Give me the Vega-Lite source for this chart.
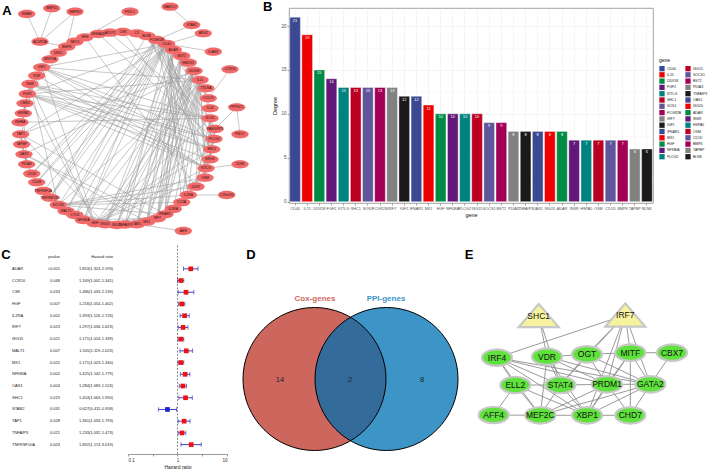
{
"$schema":"https://vega.github.io/schema/vega-lite/v6.json",
"background":"white",
"padding":0,
"spacing":0,
"config":{"view":{"stroke":null},"font":"Liberation Sans","concat":{"spacing":0}},
"resolve":{"scale":{"color":"independent"},"legend":{"color":"independent"}},
"datasets":{
"degree":[{"gene":"CD40","degree":21},{"gene":"IL15","degree":19},{"gene":"DDX58","degree":15},{"gene":"FGF2","degree":14},{"gene":"KITLG","degree":13},{"gene":"SHC1","degree":13},{"gene":"SOS1","degree":13},{"gene":"FCGR2B","degree":13},{"gene":"IRF7","degree":13},{"gene":"IGF1","degree":12},{"gene":"IFNAR1","degree":12},{"gene":"MX1","degree":11},{"gene":"HGF","degree":10},{"gene":"NFKBIA","degree":10},{"gene":"PLCG2","degree":10},{"gene":"ISG15","degree":10},{"gene":"SOCS1","degree":9},{"gene":"BST2","degree":9},{"gene":"PDIA3","degree":8},{"gene":"TNFAIP3","degree":8},{"gene":"OAS1","degree":8},{"gene":"ISG20","degree":8},{"gene":"ADAR","degree":8},{"gene":"INSR","degree":7},{"gene":"HSPA5","degree":7},{"gene":"OSM","degree":7},{"gene":"CD1D","degree":7},{"gene":"BMP6","degree":7},{"gene":"TAPBP","degree":6},{"gene":"BLNK","degree":6}],
"anodes":[{"id":"INHBE","x":26.7,"y":14},{"id":"BMP10","x":51.7,"y":8.3},{"id":"BMPR2","x":75,"y":11.7},{"id":"ACVR2A","x":40,"y":41.7},{"id":"FSTL1","x":130,"y":11.7},{"id":"MARCO","x":170,"y":6.7},{"id":"STAB2","x":191.7,"y":25},{"id":"ARG2","x":203.3,"y":33.3},{"id":"ICAM2","x":213.3,"y":51.7},{"id":"CCR10","x":230,"y":69.3},{"id":"PPP3CC","x":236.7,"y":107.3},{"id":"PNOC","x":240,"y":134.3},{"id":"CDH5","x":240,"y":164.3},{"id":"C19orf10","x":226.7,"y":195},{"id":"AEN","x":183.3,"y":231},{"id":"HSPA5","x":23.3,"y":113.3},{"id":"CMN1","x":25,"y":103.3},{"id":"FGF2","x":27.3,"y":94},{"id":"INSR","x":30,"y":84},{"id":"VDR","x":36.7,"y":75.7},{"id":"IGF1","x":41.7,"y":67.3},{"id":"WNT5A","x":50,"y":59.3},{"id":"DKK1","x":58.3,"y":52.7},{"id":"BMP6","x":66.7,"y":46.7},{"id":"NEO1","x":75,"y":41.7},{"id":"HFE","x":85,"y":37.3},{"id":"SEMA4D","x":98.3,"y":34},{"id":"APLP2","x":110,"y":32.7},{"id":"CSK","x":123,"y":32},{"id":"C3","x":136.7,"y":33.3},{"id":"BLNK","x":146.7,"y":36},{"id":"FCGR2B","x":156.7,"y":40},{"id":"CD40","x":166.7,"y":44},{"id":"ADAR","x":173.3,"y":50},{"id":"BST2","x":181.7,"y":56},{"id":"HMOX1","x":188.3,"y":62.7},{"id":"DDX58","x":194,"y":71},{"id":"IL15","x":200,"y":80},{"id":"TXLNA","x":206,"y":88.3},{"id":"CCL19","x":208.3,"y":98.3},{"id":"IL18","x":210,"y":108.3},{"id":"SOS1","x":210,"y":118.3},{"id":"RASGRP3","x":215,"y":129},{"id":"PLCG2","x":214,"y":139},{"id":"SHC1","x":211.7,"y":149.3},{"id":"NRG3","x":210,"y":159.3},{"id":"KITLG","x":206,"y":168.3},{"id":"OSM","x":205,"y":177.7},{"id":"IL6ST","x":196,"y":186.7},{"id":"IL2RA","x":188.3,"y":195},{"id":"IL12A","x":181.7,"y":202.3},{"id":"IL5RA","x":173.3,"y":209},{"id":"IFNAR1","x":165,"y":214.3},{"id":"IRF7","x":157.3,"y":218.3},{"id":"MX1","x":146.7,"y":221.7},{"id":"OAS1","x":136.7,"y":224.3},{"id":"TNFAIP3","x":125,"y":224.5},{"id":"ISG20","x":116.7,"y":225},{"id":"ISG15","x":105,"y":224.3},{"id":"HGF","x":95,"y":223.3},{"id":"NFKBIA","x":83.3,"y":220},{"id":"CYLD","x":75,"y":215},{"id":"MALT1","x":66,"y":211},{"id":"SOCS1","x":58.3,"y":205},{"id":"TNFRSF13B","x":50,"y":197.7},{"id":"TNFRSF1A","x":43.3,"y":191},{"id":"CD48","x":36.7,"y":182.3},{"id":"CD1D","x":31.7,"y":173.7},{"id":"PDIA3","x":26.7,"y":164.3},{"id":"DAXX","x":24,"y":154.3},{"id":"TAPBP","x":21.7,"y":144.3},{"id":"TAP1","x":20.7,"y":134.3},{"id":"INHBA","x":20,"y":122.3}],
"aedges":[{"s":"CD40","t":"TNFAIP3"},{"s":"CD40","t":"NFKBIA"},{"s":"CD40","t":"MALT1"},{"s":"CD40","t":"CYLD"},{"s":"CD40","t":"IL12A"},{"s":"CD40","t":"IL2RA"},{"s":"CD40","t":"CD48"},{"s":"CD40","t":"TNFRSF1A"},{"s":"CD40","t":"TNFRSF13B"},{"s":"CD40","t":"KITLG"},{"s":"CD40","t":"OSM"},{"s":"CD40","t":"IL15"},{"s":"CD40","t":"IL18"},{"s":"CD40","t":"CCL19"},{"s":"CD40","t":"TXLNA"},{"s":"CD40","t":"TAP1"},{"s":"CD40","t":"CD1D"},{"s":"CD40","t":"IGF1"},{"s":"CD40","t":"FGF2"},{"s":"CD40","t":"SOCS1"},{"s":"CD40","t":"FCGR2B"},
{"s":"IL15","t":"IL2RA"},{"s":"IL15","t":"IL12A"},{"s":"IL15","t":"IL18"},{"s":"IL15","t":"IL6ST"},{"s":"IL15","t":"IL5RA"},{"s":"IL15","t":"OSM"},{"s":"IL15","t":"KITLG"},{"s":"IL15","t":"SOCS1"},{"s":"IL15","t":"IRF7"},{"s":"IL15","t":"MX1"},{"s":"IL15","t":"IFNAR1"},{"s":"IL15","t":"CCL19"},{"s":"IL15","t":"FGF2"},{"s":"IL15","t":"IGF1"},{"s":"IL15","t":"HGF"},{"s":"IL15","t":"DDX58"},{"s":"IL15","t":"TNFAIP3"},{"s":"IL15","t":"ISG15"},
{"s":"DDX58","t":"IRF7"},{"s":"DDX58","t":"MX1"},{"s":"DDX58","t":"OAS1"},{"s":"DDX58","t":"ISG15"},{"s":"DDX58","t":"ISG20"},{"s":"DDX58","t":"IFNAR1"},{"s":"DDX58","t":"ADAR"},{"s":"DDX58","t":"BST2"},{"s":"DDX58","t":"TNFAIP3"},{"s":"DDX58","t":"NFKBIA"},{"s":"DDX58","t":"CYLD"},{"s":"DDX58","t":"DAXX"},{"s":"DDX58","t":"TAP1"},
{"s":"FGF2","t":"IGF1"},{"s":"FGF2","t":"HGF"},{"s":"FGF2","t":"INSR"},{"s":"FGF2","t":"KITLG"},{"s":"FGF2","t":"SOS1"},{"s":"FGF2","t":"SHC1"},{"s":"FGF2","t":"PLCG2"},{"s":"FGF2","t":"BMP6"},{"s":"FGF2","t":"WNT5A"},{"s":"FGF2","t":"VDR"},{"s":"FGF2","t":"HSPA5"},{"s":"FGF2","t":"NRG3"},
{"s":"KITLG","t":"SHC1"},{"s":"KITLG","t":"SOS1"},{"s":"KITLG","t":"PLCG2"},{"s":"KITLG","t":"IGF1"},{"s":"KITLG","t":"OSM"},{"s":"KITLG","t":"IL6ST"},{"s":"KITLG","t":"INSR"},{"s":"KITLG","t":"HGF"},{"s":"KITLG","t":"IL2RA"},{"s":"KITLG","t":"FCGR2B"},{"s":"KITLG","t":"CDH5"},{"s":"KITLG","t":"VDR"},
{"s":"SHC1","t":"SOS1"},{"s":"SHC1","t":"PLCG2"},{"s":"SHC1","t":"IGF1"},{"s":"SHC1","t":"INSR"},{"s":"SHC1","t":"HGF"},{"s":"SHC1","t":"NRG3"},{"s":"SHC1","t":"IL2RA"},{"s":"SHC1","t":"FCGR2B"},{"s":"SHC1","t":"OSM"},{"s":"SHC1","t":"RASGRP3"},{"s":"SHC1","t":"BLNK"},{"s":"SHC1","t":"CSK"},
{"s":"SOS1","t":"PLCG2"},{"s":"SOS1","t":"IGF1"},{"s":"SOS1","t":"INSR"},{"s":"SOS1","t":"HGF"},{"s":"SOS1","t":"NRG3"},{"s":"SOS1","t":"BLNK"},{"s":"SOS1","t":"RASGRP3"},{"s":"SOS1","t":"FCGR2B"},{"s":"SOS1","t":"IL6ST"},{"s":"SOS1","t":"APLP2"},{"s":"SOS1","t":"INHBA"},
{"s":"FCGR2B","t":"PLCG2"},{"s":"FCGR2B","t":"BLNK"},{"s":"FCGR2B","t":"TNFRSF13B"},{"s":"FCGR2B","t":"CD48"},{"s":"FCGR2B","t":"MALT1"},{"s":"FCGR2B","t":"NFKBIA"},{"s":"FCGR2B","t":"CD1D"},{"s":"FCGR2B","t":"IL2RA"},{"s":"FCGR2B","t":"STAB2"},
{"s":"IRF7","t":"IFNAR1"},{"s":"IRF7","t":"MX1"},{"s":"IRF7","t":"OAS1"},{"s":"IRF7","t":"ISG15"},{"s":"IRF7","t":"ISG20"},{"s":"IRF7","t":"ADAR"},{"s":"IRF7","t":"BST2"},{"s":"IRF7","t":"TNFAIP3"},{"s":"IRF7","t":"NFKBIA"},{"s":"IRF7","t":"HMOX1"},{"s":"IRF7","t":"DAXX"},
{"s":"IGF1","t":"INSR"},{"s":"IGF1","t":"VDR"},{"s":"IGF1","t":"HSPA5"},{"s":"IGF1","t":"PLCG2"},{"s":"IGF1","t":"WNT5A"},{"s":"IGF1","t":"HGF"},
{"s":"IFNAR1","t":"MX1"},{"s":"IFNAR1","t":"OAS1"},{"s":"IFNAR1","t":"ISG15"},{"s":"IFNAR1","t":"ADAR"},{"s":"IFNAR1","t":"BST2"},{"s":"IFNAR1","t":"ISG20"},{"s":"IFNAR1","t":"SOCS1"},{"s":"IFNAR1","t":"TAP1"},{"s":"IFNAR1","t":"IL12A"},
{"s":"MX1","t":"OAS1"},{"s":"MX1","t":"ISG15"},{"s":"MX1","t":"ISG20"},{"s":"MX1","t":"ADAR"},{"s":"MX1","t":"BST2"},{"s":"MX1","t":"DAXX"},
{"s":"HGF","t":"PLCG2"},{"s":"HGF","t":"INSR"},{"s":"HGF","t":"OSM"},
{"s":"NFKBIA","t":"TNFAIP3"},{"s":"NFKBIA","t":"CYLD"},{"s":"NFKBIA","t":"MALT1"},{"s":"NFKBIA","t":"TNFRSF1A"},
{"s":"PLCG2","t":"BLNK"},{"s":"PLCG2","t":"RASGRP3"},{"s":"PLCG2","t":"INSR"},{"s":"PLCG2","t":"SEMA4D"},
{"s":"ISG15","t":"OAS1"},{"s":"ISG15","t":"ADAR"},{"s":"ISG15","t":"BST2"},{"s":"ISG15","t":"ISG20"},{"s":"ISG15","t":"TAP1"},
{"s":"SOCS1","t":"IL2RA"},{"s":"SOCS1","t":"IL6ST"},{"s":"SOCS1","t":"OSM"},{"s":"SOCS1","t":"INSR"},{"s":"SOCS1","t":"IL12A"},
{"s":"BST2","t":"OAS1"},{"s":"BST2","t":"ADAR"},{"s":"BST2","t":"ISG20"},
{"s":"PDIA3","t":"TAP1"},{"s":"PDIA3","t":"TAPBP"},{"s":"PDIA3","t":"HSPA5"},{"s":"PDIA3","t":"CD1D"},{"s":"PDIA3","t":"DAXX"},
{"s":"TNFAIP3","t":"CYLD"},{"s":"TNFAIP3","t":"MALT1"},{"s":"OAS1","t":"ADAR"},{"s":"OAS1","t":"ISG20"},{"s":"OAS1","t":"AEN"},{"s":"ISG20","t":"ADAR"},{"s":"INSR","t":"HSPA5"},{"s":"HSPA5","t":"TAPBP"},{"s":"HSPA5","t":"CMN1"},{"s":"OSM","t":"IL6ST"},{"s":"CD1D","t":"TAPBP"},{"s":"CD1D","t":"CD48"},
{"s":"BMP6","t":"ACVR2A"},{"s":"BMP6","t":"BMPR2"},{"s":"BMP6","t":"NEO1"},{"s":"BMP6","t":"DKK1"},{"s":"TAPBP","t":"TAP1"},{"s":"BLNK","t":"TNFRSF13B"},{"s":"BLNK","t":"C3"},
{"s":"ACVR2A","t":"INHBE"},{"s":"ACVR2A","t":"BMP10"},{"s":"ACVR2A","t":"BMPR2"},{"s":"WNT5A","t":"DKK1"},{"s":"MARCO","t":"STAB2"},{"s":"ARG2","t":"CD40"},{"s":"ICAM2","t":"CD40"},{"s":"CCR10","t":"CCL19"},{"s":"PPP3CC","t":"RASGRP3"},{"s":"PPP3CC","t":"PNOC"},{"s":"C19orf10","t":"IL2RA"},{"s":"FSTL1","t":"HFE"},{"s":"HFE","t":"IL6ST"}],
"enodes":[{"id":"SHC1","x":74.7,"y":79.5,"role":"gene"},{"id":"IRF7","x":161.3,"y":79,"role":"gene"},{"id":"IRF4","x":33,"y":121.7,"role":"tf"},{"id":"VDR","x":83,"y":120.7,"role":"tf"},{"id":"OGT","x":123,"y":118.3,"role":"tf"},{"id":"MITF","x":166.3,"y":116.7,"role":"tf"},{"id":"CBX7","x":208,"y":116.7,"role":"tf"},{"id":"ELL2","x":51.3,"y":149,"role":"tf"},{"id":"STAT4","x":96.3,"y":149,"role":"tf"},{"id":"PRDM1","x":143,"y":148.3,"role":"tf"},{"id":"GATA2","x":186.3,"y":148.3,"role":"tf"},{"id":"AFF4","x":29.7,"y":179,"role":"tf"},{"id":"MEF2C","x":76.3,"y":179.3,"role":"tf"},{"id":"XBP1","x":123,"y":179.3,"role":"tf"},{"id":"CHD7","x":166.3,"y":179.3,"role":"tf"}],
"eedges":[{"s":"SHC1","t":"VDR"},{"s":"SHC1","t":"STAT4"},{"s":"IRF7","t":"IRF4"},{"s":"IRF7","t":"OGT"},{"s":"IRF7","t":"MITF"},{"s":"IRF7","t":"PRDM1"},{"s":"IRF7","t":"GATA2"},{"s":"IRF7","t":"STAT4"},{"s":"IRF7","t":"XBP1"},{"s":"IRF4","t":"STAT4"},{"s":"IRF4","t":"PRDM1"},{"s":"IRF4","t":"GATA2"},{"s":"IRF4","t":"XBP1"},{"s":"IRF4","t":"MEF2C"},{"s":"IRF4","t":"ELL2"},{"s":"VDR","t":"OGT"},{"s":"VDR","t":"STAT4"},{"s":"VDR","t":"PRDM1"},{"s":"VDR","t":"GATA2"},{"s":"VDR","t":"MEF2C"},{"s":"VDR","t":"XBP1"},{"s":"OGT","t":"MITF"},{"s":"OGT","t":"STAT4"},{"s":"OGT","t":"PRDM1"},{"s":"OGT","t":"GATA2"},{"s":"MITF","t":"CBX7"},{"s":"MITF","t":"PRDM1"},{"s":"MITF","t":"GATA2"},{"s":"MITF","t":"CHD7"},{"s":"MITF","t":"XBP1"},{"s":"CBX7","t":"GATA2"},{"s":"ELL2","t":"STAT4"},{"s":"ELL2","t":"AFF4"},{"s":"ELL2","t":"MEF2C"},{"s":"ELL2","t":"XBP1"},{"s":"STAT4","t":"PRDM1"},{"s":"STAT4","t":"XBP1"},{"s":"STAT4","t":"MEF2C"},{"s":"PRDM1","t":"GATA2"},{"s":"PRDM1","t":"XBP1"},{"s":"PRDM1","t":"MEF2C"},{"s":"PRDM1","t":"CHD7"},{"s":"GATA2","t":"XBP1"},{"s":"GATA2","t":"CHD7"},{"s":"GATA2","t":"MEF2C"},{"s":"AFF4","t":"MEF2C"},{"s":"MEF2C","t":"XBP1"},{"s":"XBP1","t":"CHD7"}],
"forest":[{"key":"ADAR","hr":1.853,"lo":1.324,"hi":2.593},{"key":"CCR10","hr":1.169,"lo":1.002,"hi":1.341},{"key":"CSK","hr":1.486,"lo":1.033,"hi":2.139},{"key":"HGF","hr":1.216,"lo":1.054,"hi":1.402},{"key":"IL2RA","hr":1.393,"lo":1.126,"hi":1.726},{"key":"IRF7","hr":1.297,"lo":1.036,"hi":1.623},{"key":"ISG15","hr":1.171,"lo":1.024,"hi":1.339},{"key":"MALT1","hr":1.505,"lo":1.119,"hi":2.023},{"key":"MX1","hr":1.171,"lo":1.023,"hi":1.34},{"key":"NFKBIA","hr":1.425,"lo":1.142,"hi":1.779},{"key":"OAS1","hr":1.284,"lo":1.083,"hi":1.524},{"key":"SHC1","hr":1.454,"lo":1.063,"hi":1.99},{"key":"STAB2","hr":0.627,"lo":0.411,"hi":0.958},{"key":"TAP1","hr":1.361,"lo":1.033,"hi":1.793},{"key":"TNFAIP3","hr":1.233,"lo":1.032,"hi":1.473},{"key":"TNFRSF10A","hr":1.892,"lo":1.174,"hi":3.019}],
"ctab":[{"key":"hdr","name":"","p":"pvalue","hrtxt":"Hazard ratio"},{"key":"ADAR","name":"ADAR","p":"<0.001","hrtxt":"1.853(1.324-2.593)"},{"key":"CCR10","name":"CCR10","p":"0.048","hrtxt":"1.169(1.002-1.341)"},{"key":"CSK","name":"CSK","p":"0.033","hrtxt":"1.486(1.033-2.139)"},{"key":"HGF","name":"HGF","p":"0.007","hrtxt":"1.216(1.054-1.402)"},{"key":"IL2RA","name":"IL2RA","p":"0.002","hrtxt":"1.393(1.126-1.726)"},{"key":"IRF7","name":"IRF7","p":"0.023","hrtxt":"1.297(1.036-1.623)"},{"key":"ISG15","name":"ISG15","p":"0.021","hrtxt":"1.171(1.024-1.339)"},{"key":"MALT1","name":"MALT1","p":"0.007","hrtxt":"1.505(1.119-2.023)"},{"key":"MX1","name":"MX1","p":"0.022","hrtxt":"1.171(1.023-1.340)"},{"key":"NFKBIA","name":"NFKBIA","p":"0.002","hrtxt":"1.425(1.142-1.779)"},{"key":"OAS1","name":"OAS1","p":"0.004","hrtxt":"1.284(1.083-1.524)"},{"key":"SHC1","name":"SHC1","p":"0.019","hrtxt":"1.454(1.063-1.990)"},{"key":"STAB2","name":"STAB2","p":"0.031","hrtxt":"0.627(0.411-0.958)"},{"key":"TAP1","name":"TAP1","p":"0.028","hrtxt":"1.361(1.033-1.793)"},{"key":"TNFAIP3","name":"TNFAIP3","p":"0.021","hrtxt":"1.233(1.032-1.473)"},{"key":"TNFRSF10A","name":"TNFRSF10A","p":"0.003","hrtxt":"1.892(1.174-3.019)"}]
},
"vconcat":[
{"spacing":0,"resolve":{"scale":{"color":"independent"},"legend":{"color":"independent"}},"hconcat":[
 {"width":262,"height":227,
  "encoding":{"x":{"field":"x","type":"quantitative","scale":{"domain":[0,262],"nice":false,"zero":false},"axis":null},"y":{"field":"y","type":"quantitative","scale":{"domain":[8,235],"nice":false,"zero":false,"reverse":true},"axis":null}},
  "layer":[
   {"data":{"name":"aedges"},"transform":[{"lookup":"s","from":{"data":{"name":"anodes"},"key":"id","fields":["x","y"]},"as":["x","y"]},{"lookup":"t","from":{"data":{"name":"anodes"},"key":"id","fields":["x","y"]},"as":["x2","y2"]}],
    "mark":{"type":"rule","color":"#9b9b9b","strokeWidth":0.55},"encoding":{"x2":{"field":"x2"},"y2":{"field":"y2"}}},
   {"data":{"name":"anodes"},"mark":{"type":"point","shape":"M-1,0A1,0.48,0,1,0,1,0A1,0.48,0,1,0,-1,0Z","size":300,"filled":true,"color":"#F26A6A","opacity":1,"strokeWidth":0}},
   {"data":{"name":"anodes"},"mark":{"type":"text","fontSize":3.4,"color":"#2a1010"},"encoding":{"text":{"field":"id"}}},
   {"data":{"values":[{"t":"A","x":7,"y":11}]},"mark":{"type":"text","fontSize":13,"fontWeight":"bold","color":"black"},"encoding":{"text":{"field":"t"}}}
  ]},
 {"width":364,"height":195,
  "view":{"stroke":"#8c8c8c","strokeWidth":0.8},
  "title":{"text":"B","anchor":"start","frame":"group","dx":-26,"offset":-6,"fontSize":13,"fontWeight":"bold","color":"black"},
  "data":{"name":"degree"},
  "encoding":{
   "x":{"field":"gene","type":"nominal","sort":null,"scale":{"paddingInner":0.12,"paddingOuter":0.06},
    "axis":{"title":"gene","titleFontSize":5.5,"titleFontWeight":"normal","titleColor":"#111","titlePadding":2,"labelAngle":0,"labelFontSize":3.8,"labelColor":"#4d4d4d","labelOverlap":false,"labelPadding":1.5,"tickSize":2,"tickColor":"#444","tickWidth":0.5,"domain":false,"grid":true,"gridColor":"#ebebeb","gridWidth":0.5,"bandPosition":0.5}},
   "y":{"field":"degree","type":"quantitative","scale":{"domain":[-0.15,22.05],"nice":false,"zero":false},
    "axis":{"title":"Degree","values":[0,2.5,5,7.5,10,12.5,15,17.5,20],"labelExpr":"datum.value % 5 === 0 ? datum.label : ''","titleFontSize":5.5,"titleFontWeight":"normal","titleColor":"#111","titlePadding":3,"labelFontSize":4.5,"labelColor":"#4d4d4d","labelPadding":1,"tickSize":2,"tickColor":"#444","tickWidth":0.5,"tickOpacity":{"condition":{"test":"datum.value % 5 !== 0","value":0},"value":1},"domain":false,"grid":true,"gridColor":{"condition":{"test":"datum.value % 5 !== 0","value":"#f4f4f4"},"value":"#e8e8e8"},"gridWidth":0.5}}
  },
  "layer":[
   {"mark":{"type":"bar","stroke":"white","strokeWidth":0.4},
    "encoding":{"y2":{"datum":0},
     "color":{"field":"gene","type":"nominal","scale":{"domain":["CD40","IL15","DDX58","FGF2","KITLG","SHC1","SOS1","FCGR2B","IRF7","IGF1","IFNAR1","MX1","HGF","NFKBIA","PLCG2","ISG15","SOCS1","BST2","PDIA3","TNFAIP3","OAS1","ISG20","ADAR","INSR","HSPA5","OSM","CD1D","BMP6","TAPBP","BLNK"],"range":["#3B4992","#EE0000","#008B45","#631879","#008280","#BB0021","#5F559B","#A20056","#808180","#1B1919","#3B4992","#EE0000","#008B45","#631879","#008280","#BB0021","#5F559B","#A20056","#808180","#1B1919","#3B4992","#EE0000","#008B45","#631879","#008280","#BB0021","#5F559B","#A20056","#808180","#1B1919"]},
      "legend":{"title":"gene","orient":"none","legendX":370,"legendY":50,"columns":2,"symbolType":"square","symbolSize":28,"symbolStrokeWidth":0,"symbolOpacity":1,"labelFontSize":3.5,"labelColor":"#222","labelOffset":2,"titleFontSize":5,"titleFontWeight":"normal","titleColor":"#111","titlePadding":2.5,"rowPadding":0.3,"columnPadding":3,"padding":0}}}},
   {"mark":{"type":"text","color":"white","fontSize":4,"baseline":"top","dy":1.5},"encoding":{"text":{"field":"degree","type":"quantitative"}}}
  ]}
]},
{"spacing":0,"resolve":{"scale":{"color":"independent"},"legend":{"color":"independent"}},"hconcat":[
 {"width":127,"height":218,
  "data":{"name":"ctab"},
  "encoding":{"y":{"field":"key","type":"nominal","scale":{"type":"point","domain":["blank","hdr","ADAR","CCR10","CSK","HGF","IL2RA","IRF7","ISG15","MALT1","MX1","NFKBIA","OAS1","SHC1","STAB2","TAP1","TNFAIP3","TNFRSF10A"],"padding":0.8},"axis":null}},
  "layer":[
   {"mark":{"type":"text","align":"left","fontSize":4,"color":"#222"},"encoding":{"x":{"datum":12,"type":"quantitative","scale":{"domain":[0,127],"nice":false,"zero":false},"axis":null},"text":{"field":"name"}}},
   {"mark":{"type":"text","align":"right","fontSize":4,"color":"#222"},"encoding":{"x":{"datum":60,"type":"quantitative","scale":{"domain":[0,127],"nice":false,"zero":false},"axis":null},"text":{"field":"p"}}},
   {"mark":{"type":"text","align":"right","fontSize":4,"color":"#222"},"encoding":{"x":{"datum":113,"type":"quantitative","scale":{"domain":[0,127],"nice":false,"zero":false},"axis":null},"text":{"field":"hrtxt"}}},
   {"data":{"values":[{"t":"C"}]},"mark":{"type":"text","align":"center","baseline":"alphabetic","dy":2,"fontSize":13,"fontWeight":"bold","color":"black"},"encoding":{"x":{"datum":6,"type":"quantitative","scale":{"domain":[0,127],"nice":false,"zero":false},"axis":null},"y":{"datum":"hdr","type":"nominal"},"text":{"field":"t"}}}
  ]},
 {"width":99,"height":218,
  "data":{"name":"forest"},
  "encoding":{"y":{"field":"key","type":"nominal","scale":{"type":"point","domain":["blank","hdr","ADAR","CCR10","CSK","HGF","IL2RA","IRF7","ISG15","MALT1","MX1","NFKBIA","OAS1","SHC1","STAB2","TAP1","TNFAIP3","TNFRSF10A"],"padding":0.8},"axis":null}},
  "layer":[
   {"data":{"values":[{"v":1}]},"mark":{"type":"rule","strokeDash":[2,1.5],"color":"#555","strokeWidth":0.7},
    "encoding":{"x":{"field":"v","type":"quantitative","scale":{"type":"log","domain":[0.1,10],"nice":false},"axis":{"title":"Hazard ratio","values":[0.1,0.3162,1,3.162,10],"labelExpr":"datum.value === 0.1 ? '0.1' : datum.value === 1 ? '1' : datum.value === 10 ? '10' : ''","labelFontSize":4.5,"labelColor":"#333","labelPadding":1,"labelFlush":true,"tickSize":2,"tickColor":"#555","tickWidth":0.6,"domainColor":"#555","domainWidth":0.6,"grid":false,"titleFontSize":5,"titleFontWeight":"normal","titleColor":"#222","titlePadding":3}},"y":{"datum":"blank","type":"nominal"},"y2":{"value":"height"}}},
   {"mark":{"type":"rule","color":"#2a2ab8","strokeWidth":0.9},"encoding":{"x":{"field":"lo","type":"quantitative","scale":{"type":"log","domain":[0.1,10],"nice":false},"axis":{"title":"Hazard ratio"}},"x2":{"field":"hi"}}},
   {"mark":{"type":"tick","color":"#2a2ab8","thickness":0.9,"size":4.5},"encoding":{"x":{"field":"lo","type":"quantitative","scale":{"type":"log","domain":[0.1,10],"nice":false},"axis":{"title":"Hazard ratio"}}}},
   {"mark":{"type":"tick","color":"#2a2ab8","thickness":0.9,"size":4.5},"encoding":{"x":{"field":"hi","type":"quantitative","scale":{"type":"log","domain":[0.1,10],"nice":false},"axis":{"title":"Hazard ratio"}}}},
   {"mark":{"type":"point","shape":"square","filled":true,"size":22,"opacity":1},"encoding":{"x":{"field":"hr","type":"quantitative","scale":{"type":"log","domain":[0.1,10],"nice":false},"axis":{"title":"Hazard ratio"}},"color":{"condition":{"test":"datum.hr < 1","value":"#2323c8"},"value":"#ee1111"}}}
  ]},
 {"width":236,"height":235,
  "encoding":{"x":{"field":"x","type":"quantitative","scale":{"domain":[0,236],"nice":false,"zero":false},"axis":null},"y":{"field":"y","type":"quantitative","scale":{"domain":[0,235],"nice":false,"zero":false,"reverse":true},"axis":null}},
  "layer":[
   {"data":{"values":[{"set":"Cox-genes","x":86.5,"y":143}]},"mark":{"type":"point","shape":"circle","size":20449,"filled":true,"opacity":1,"strokeWidth":0,"color":"#CD665D"}},
   {"data":{"values":[{"set":"PPI-genes","x":158.5,"y":143}]},"mark":{"type":"point","shape":"circle","size":20449,"filled":true,"opacity":1,"strokeWidth":0,"color":"#3D94C6"}},
   {"data":{"values":[{"set":"Cox-genes & PPI-genes","x":122.5,"y":143}]},"mark":{"type":"point","shape":"M0,-0.864A1,1,0,0,1,0,0.864A1,1,0,0,1,0,-0.864Z","size":20449,"filled":true,"opacity":1,"strokeWidth":0,"color":"#336C9A"}},
   {"data":{"values":[{"x":86.5,"y":143},{"x":158.5,"y":143}]},"mark":{"type":"point","shape":"circle","size":20449,"filled":false,"opacity":1,"stroke":"black","strokeWidth":1}},
   {"data":{"values":[{"set":"Cox-genes","x":87,"y":63},{"set":"PPI-genes","x":158,"y":63}]},"mark":{"type":"text","fontSize":8,"fontWeight":"bold"},
    "encoding":{"text":{"field":"set"},"color":{"condition":{"test":"datum.set === 'Cox-genes'","value":"#CD665D"},"value":"#3D94C6"}}},
   {"data":{"values":[{"n":14,"x":52,"y":144},{"n":2,"x":122,"y":144},{"n":8,"x":194,"y":144}]},"mark":{"type":"text","fontSize":7.5,"color":"#222"},"encoding":{"text":{"field":"n"}}},
   {"data":{"values":[{"t":"D","x":23,"y":18.5}]},"mark":{"type":"text","fontSize":13,"fontWeight":"bold","color":"black"},"encoding":{"text":{"field":"t"}}}
  ]},
 {"width":246,"height":235,
  "encoding":{"x":{"field":"x","type":"quantitative","scale":{"domain":[0,246],"nice":false,"zero":false},"axis":null},"y":{"field":"y","type":"quantitative","scale":{"domain":[0,235],"nice":false,"zero":false,"reverse":true},"axis":null}},
  "layer":[
   {"data":{"name":"eedges"},"transform":[{"lookup":"s","from":{"data":{"name":"enodes"},"key":"id","fields":["x","y"]},"as":["x","y"]},{"lookup":"t","from":{"data":{"name":"enodes"},"key":"id","fields":["x","y"]},"as":["x2","y2"]}],
    "mark":{"type":"rule","color":"#8f8f8f","strokeWidth":0.9},"encoding":{"x2":{"field":"x2"},"y2":{"field":"y2"}}},
   {"data":{"name":"enodes"},"transform":[{"filter":"datum.role === 'tf'"}],"mark":{"type":"point","shape":"M-1,0A1,0.55,0,1,0,1,0A1,0.55,0,1,0,-1,0Z","size":900,"filled":true,"opacity":1,"fill":"#5FE33C","stroke":"#c8c8c8","strokeWidth":2.2}},
   {"data":{"name":"enodes"},"transform":[{"filter":"datum.role === 'gene'"}],"mark":{"type":"point","shape":"M0,-0.58L1,0.58L-1,0.58Z","size":1600,"filled":true,"opacity":1,"fill":"#F7F29E","stroke":"#c8c8c8","strokeWidth":2.2}},
   {"data":{"name":"enodes"},"mark":{"type":"text","fontSize":8.5,"color":"#111"},"encoding":{"text":{"field":"id"}}},
   {"data":{"values":[{"t":"E","x":5,"y":19}]},"mark":{"type":"text","fontSize":13,"fontWeight":"bold","color":"black"},"encoding":{"text":{"field":"t"}}}
  ]}
]}
]
}
